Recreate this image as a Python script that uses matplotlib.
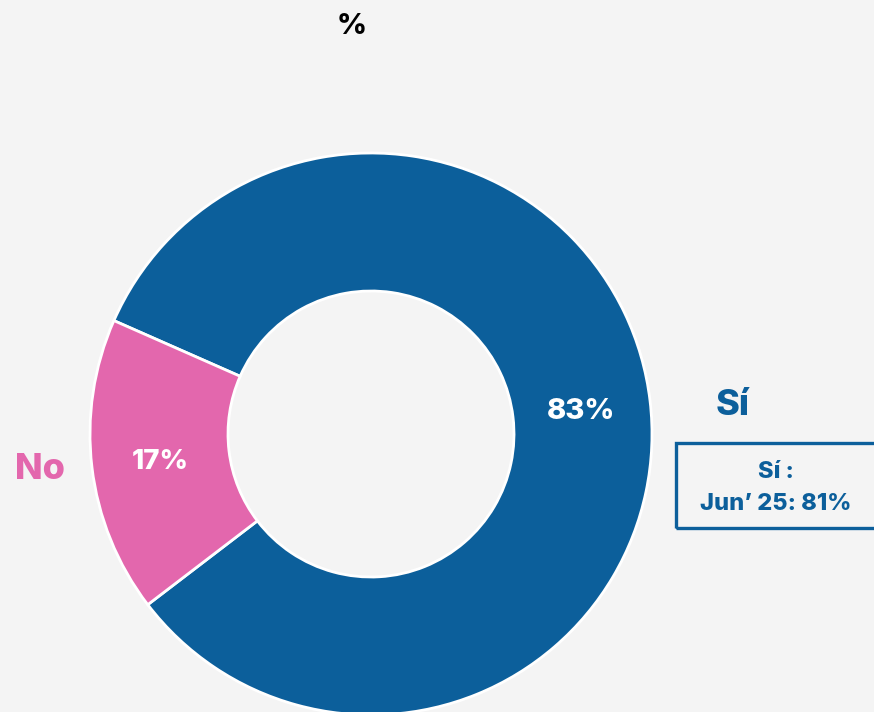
import matplotlib
matplotlib.use("Agg")
import matplotlib.pyplot as plt
from matplotlib.patches import Rectangle
import numpy as np

# Survey shares
categories = ["Sí", "No"]
values = [83, 17]
colors = ["#0c5f9b", "#e367ad"]
title = "%"
note_lines = ["Sí :", "Jun’ 25: 81%"]

W, H = 874, 712
bg = "#f4f4f4"
fig = plt.figure(figsize=(W / 100, H / 100), dpi=100)
fig.patch.set_facecolor(bg)
ax = fig.add_axes([0, 0, 1, 1])
ax.set_facecolor(bg)

font = ["Inter", "DejaVu Sans"]
wt = 800
va = "center_baseline"

cx, cy, r_out = 371, H - 434, 281
hole = 143 / r_out

wedges, _ = ax.pie(
    values, colors=colors, radius=r_out, center=(cx, cy),
    startangle=156.2, counterclock=False,
    wedgeprops=dict(width=r_out * (1 - hole), edgecolor="white", linewidth=2),
    frame=True,
)
ax.set_xlim(0, W)
ax.set_ylim(0, H)
ax.axis("off")

# Percent labels placed mid-ring on each wedge
r_mid = r_out * (1 + hole) / 2
sizes = [21, 20]
for w, v, s in zip(wedges, values, sizes):
    ang = np.deg2rad((w.theta1 + w.theta2) / 2)
    ax.text(cx + r_mid * np.cos(ang), cy + r_mid * np.sin(ang), f"{v}%",
            ha="center", va=va, color="white", fontsize=s,
            fontweight=wt, family=font)

# Category labels
ax.text(733, H - 402, categories[0], ha="center", va=va,
        color=colors[0], fontsize=26, fontweight=wt, family=font)
ax.text(40, H - 466, categories[1], ha="center", va=va,
        color=colors[1], fontsize=26, fontweight=wt, family=font)

# Title
ax.text(352, H - 24, title, ha="center", va=va, color="black",
        fontsize=21, fontweight=wt, family=font)

# Comparison note box
ax.add_patch(Rectangle((676, H - 528), 210, 85, facecolor="none",
                       edgecolor=colors[0], linewidth=2.4, clip_on=True))
ax.text(776, H - 470, note_lines[0], ha="center", va=va,
        color=colors[0], fontsize=17, fontweight=wt, family=font)
ax.text(776, H - 501, note_lines[1], ha="center", va=va,
        color=colors[0], fontsize=17, fontweight=wt, family=font)

fig.savefig("out.png", dpi=100, facecolor=fig.get_facecolor())
